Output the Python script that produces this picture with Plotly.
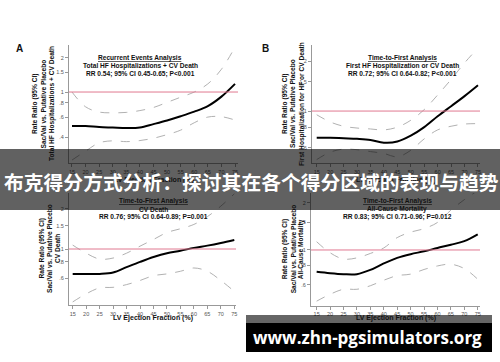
import plotly.graph_objects as go

W, H = 500, 362

ef = [15, 20, 25, 30, 35, 40, 45, 50, 55, 60, 65, 70, 75]
x_ticks = [15, 20, 25, 30, 35, 40, 45, 50, 55, 60, 65, 70, 75]

A_est = [0.50, 0.50, 0.49, 0.485, 0.48, 0.485, 0.52, 0.56, 0.61, 0.67, 0.75, 0.91, 1.18]
A_upper = [1.0, 0.74, 0.665, 0.655, 0.66, 0.685, 0.73, 0.81, 0.90, 1.0, 1.18, 1.59, 2.5]
A_lower = [0.25, 0.30, 0.355, 0.37, 0.364, 0.372, 0.39, 0.42, 0.46, 0.535, 0.60, 0.605, 0.565]

B_est = [0.69, 0.69, 0.685, 0.68, 0.67, 0.645, 0.655, 0.71, 0.80, 0.93, 1.07, 1.23, 1.43]
B_upper = [0.95, 0.86, 0.81, 0.79, 0.78, 0.77, 0.80, 0.88, 1.02, 1.25, 1.55, 1.95, 2.4]
B_lower = [0.51, 0.565, 0.59, 0.585, 0.57, 0.555, 0.53, 0.58, 0.68, 0.77, 0.81, 0.835, 0.84]

C_est = [0.65, 0.65, 0.65, 0.665, 0.73, 0.80, 0.87, 0.93, 0.97, 1.02, 1.06, 1.11, 1.17]
C_upper = [1.07, 0.93, 0.84, 0.855, 0.93, 1.05, 1.18, 1.33, 1.42, 1.53, 1.75, 2.1, 2.6]
C_lower = [0.40, 0.46, 0.51, 0.515, 0.54, 0.58, 0.63, 0.65, 0.68, 0.72, 0.68, 0.58, 0.48]

D_est = [0.725, 0.71, 0.70, 0.70, 0.745, 0.82, 0.89, 0.94, 0.98, 1.03, 1.08, 1.14, 1.26]
D_upper = [1.13, 0.96, 0.875, 0.89, 0.95, 1.03, 1.20, 1.30, 1.37, 1.50, 1.80, 2.1, 2.4]
D_lower = [0.47, 0.52, 0.56, 0.56, 0.59, 0.64, 0.685, 0.70, 0.75, 0.79, 0.81, 0.76, 0.65]

ref_value = 1

panels = [
    dict(key="A", est=A_est, up=A_upper, lo=A_lower,
         xdom=(69, 238), ydom=(45, 163), xr=(13.9, 76.1), yr=(-0.628, 0.416),
         yt=[0.4, 0.6, 0.8, 1, 1.5, 2], ytt=[".4", ".6", ".8", "1", "1.5", "2"],
         head=["<u>Recurrent Events Analysis</u>", "Total HF Hospitalizations + CV Death",
               "RR 0.54; 95% CI 0.45-0.65; P<0.001"], hx=140, hy=58,
         ytitle=["Rate Ratio (95% CI)", "Sac/Val vs. Putative Placebo", "Total HF Hospitalizations + CV Death"],
         tx=[35, 43.5, 52], letter=(19, 48), xt_y=180),
    dict(key="B", est=B_est, up=B_upper, lo=B_lower,
         xdom=(312, 480), ydom=(45, 163), xr=(13.25, 75.75), yr=(-0.313, 0.398),
         yt=[0.6, 0.8, 1, 1.5, 2], ytt=[".6", ".8", "1", "1.5", "2"],
         head=["<u>Time-to-First Analysis</u>", "First HF Hospitalization or CV Death",
               "RR 0.72; 95% CI 0.64-0.82; P<0.001"], hx=402, hy=58,
         ytitle=["Rate Ratio (95% CI)", "Sac/Val vs. Putative Placebo", "First Hospitalization for HF or CV Death"],
         tx=[285, 293, 302], letter=(265, 48), xt_y=180),
    dict(key="C", est=C_est, up=C_upper, lo=C_lower,
         xdom=(69, 236), ydom=(193, 305), xr=(13.63, 75.63), yr=(-0.421, 0.421),
         yt=[0.6, 0.8, 1, 1.5, 2], ytt=[".6", ".8", "1", "1.5", "2"],
         head=["<u>Time-to-First Analysis</u>", "CV Death",
               "RR 0.76; 95% CI 0.64-0.89; P=0.001"], hx=153, hy=201,
         ytitle=["Rate Ratio (95% CI)", "Sac/Val vs. Putative Placebo", "CV Death"],
         tx=[41.5, 49, 57], letter=None, xt_y=318),
    dict(key="D", est=D_est, up=D_upper, lo=D_lower,
         xdom=(311, 480), ydom=(193, 305.7), xr=(12.9, 75.85), yr=(-0.357, 0.365),
         yt=[0.6, 0.8, 1, 1.5, 2], ytt=[".6", ".8", "1", "1.5", "2"],
         head=["<u>Time-to-First Analysis</u>", "All-Cause Mortality",
               "RR 0.83; 95% CI 0.71-0.96; P=0.012"], hx=397, hy=201,
         ytitle=["Rate Ratio (95% CI)", "Sac/Val vs. Putative Placebo", "All-Cause Mortality"],
         tx=[285, 293, 301], letter=None, xt_y=318),
]

def px(v):
    return v / W

def py(v):
    return 1 - v / H

FONT = "Liberation Sans, Arial, sans-serif"
fig = go.Figure()
layout = dict(width=W, height=H, margin=dict(l=0, r=0, t=0, b=0),
              paper_bgcolor="white", plot_bgcolor="white", showlegend=False)
annotations = []
shapes = []

for i, p in enumerate(panels):
    n = "" if i == 0 else str(i + 1)
    xa, ya = "x" + n, "y" + n
    for vals, col, w, dash in [(p["up"], "#a8a8a8", 0.9, "dash"),
                               (p["lo"], "#a8a8a8", 0.9, "dash"),
                               (p["est"], "black", 2, "solid")]:
        fig.add_trace(go.Scatter(x=ef, y=vals, mode="lines", xaxis=xa, yaxis=ya,
                                 line=dict(color=col, width=w, dash=dash, shape="spline"),
                                 hoverinfo="skip"))
    layout["xaxis" + n] = dict(domain=[px(p["xdom"][0]), px(p["xdom"][1])], anchor=ya,
                               range=list(p["xr"]), tickvals=x_ticks, ticks="outside", ticklen=3,
                               tickcolor="#999", showline=True, linecolor="#999", linewidth=1,
                               showgrid=False, zeroline=False,
                               tickfont=dict(size=5.5, color="#555", family=FONT))
    layout["yaxis" + n] = dict(domain=[py(p["ydom"][1]), py(p["ydom"][0])], anchor=xa,
                               type="log", range=list(p["yr"]), tickvals=p["yt"], ticktext=p["ytt"],
                               ticks="outside", ticklen=3, tickcolor="#999", showline=True,
                               linecolor="#999", linewidth=1, showgrid=False, zeroline=False,
                               tickfont=dict(size=5.5, color="#555", family=FONT))
    shapes.append(dict(type="line", xref=xa + " domain", yref=ya, x0=0, x1=1,
                       y0=ref_value, y1=ref_value, line=dict(color="#e07890", width=1)))
    for k, t in enumerate(p["head"]):
        annotations.append(dict(text="<b>" + t + "</b>", x=px(p["hx"]), y=py(p["hy"] + 8.2 * k),
                                xref="paper", yref="paper", showarrow=False,
                                xanchor="center", yanchor="middle",
                                font=dict(size=6.6, color="#111", family=FONT)))
    mid = (p["ydom"][0] + p["ydom"][1]) / 2
    for k, t in enumerate(p["ytitle"]):
        annotations.append(dict(text="<b>" + t + "</b>", x=px(p["tx"][k]), y=py(mid),
                                xref="paper", yref="paper", showarrow=False, textangle=-90,
                                xanchor="center", yanchor="middle",
                                font=dict(size=6.6, color="#111", family=FONT)))
    cx = (p["xdom"][0] + p["xdom"][1]) / 2
    annotations.append(dict(text="<b>LV Ejection Fraction (%)</b>", x=px(cx), y=py(p["xt_y"]),
                            xref="paper", yref="paper", showarrow=False,
                            xanchor="center", yanchor="middle",
                            font=dict(size=7, color="#111", family=FONT)))
    if p["letter"]:
        annotations.append(dict(text="<b>" + p["key"] + "</b>", x=px(p["letter"][0]),
                                y=py(p["letter"][1]), xref="paper", yref="paper",
                                showarrow=False, xanchor="center", yanchor="middle",
                                font=dict(size=10, color="#111", family=FONT)))

# overlay banners
shapes.append(dict(type="rect", xref="paper", yref="paper", x0=0, x1=1,
                   y0=py(210), y1=py(149), fillcolor="rgba(0,0,0,0.62)",
                   line=dict(width=0), layer="above"))
shapes.append(dict(type="rect", xref="paper", yref="paper", x0=px(246), x1=px(492),
                   y0=py(323), y1=py(315), fillcolor="rgba(0,0,0,0.6)",
                   line=dict(width=0), layer="above"))
shapes.append(dict(type="rect", xref="paper", yref="paper", x0=px(246), x1=px(492),
                   y0=py(352), y1=py(323), fillcolor="black",
                   line=dict(width=0), layer="above"))
annotations.append(dict(text="<b>布克得分方式分析：探讨其在各个得分区域的表现与趋势</b>",
                        x=px(251), y=py(181), xref="paper", yref="paper", showarrow=False,
                        xanchor="center", yanchor="middle",
                        font=dict(size=19.8, color="white", family="Noto Sans CJK SC")))
annotations.append(dict(text="<b>www.zhn-pgsimulators.org</b>",
                        x=px(367), y=py(337), xref="paper", yref="paper", showarrow=False,
                        xanchor="center", yanchor="middle",
                        font=dict(size=17, color="white", family="Open Sans")))

layout["annotations"] = annotations
layout["shapes"] = shapes
fig.update_layout(**layout)
fig.write_html("out.html", config={"displayModeBar": False},
               post_script="document.body.style.margin='0';")
